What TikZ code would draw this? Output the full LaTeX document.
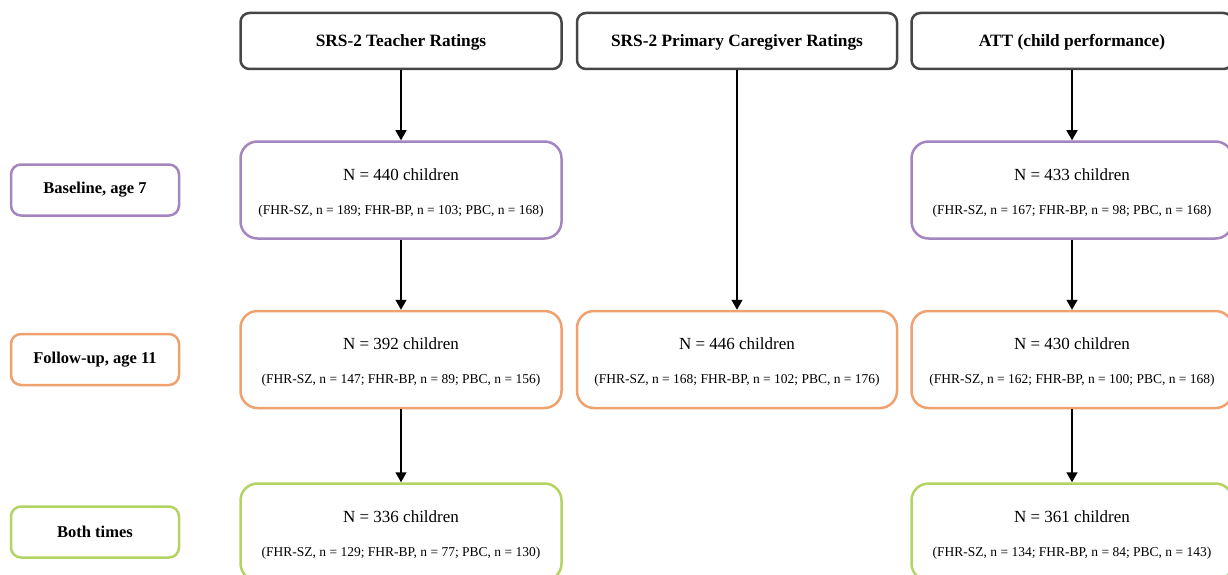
\documentclass[tikz,border=0pt]{standalone}
\usepackage{fontspec}
\setmainfont{Liberation Serif}
\usetikzlibrary{positioning,arrows.meta}

\definecolor{hdrgray}{HTML}{464646}
\definecolor{basepurple}{HTML}{A585C0}
\definecolor{followorange}{HTML}{EFA16F}
\definecolor{bothgreen}{HTML}{B3D363}

\tikzset{
  header/.style={draw=hdrgray, line width=2.5pt, rounded corners=9pt,
    minimum width=321pt, minimum height=56pt,
    text height=15.5pt, text depth=3.5pt,
    font=\fontsize{17.3}{20}\selectfont\bfseries},
  countbox/.style={draw=#1, line width=2.5pt, rounded corners=17pt,
    minimum width=321pt, minimum height=97pt, align=center,
    font=\fontsize{17}{20}\selectfont},
  wave/.style={draw=#1, line width=2.5pt, rounded corners=10pt,
    minimum width=168pt, minimum height=51pt,
    font=\fontsize{16.5}{20}\selectfont\bfseries},
  flow/.style={-{Triangle[width=11pt,length=10pt]}, line width=1.5pt},
}
\newcommand{\groups}[1]{\\[14pt]{\fontsize{13.5}{16}\selectfont (#1)}}
\newcommand{\total}[1]{\rule{0pt}{17.6pt}N = #1 children}

\begin{document}
\begin{tikzpicture}[x=1pt, y=-1pt]
  \useasboundingbox (0,0) rectangle (1228,575);

  % measures
  \node[header] (hdrT) at (401,41) {SRS-2 Teacher Ratings};
  \node[header, minimum width=320pt] (hdrP) at (737,41) {SRS-2 Primary Caregiver Ratings};
  \node[header] (hdrA) at (1072,41) {ATT (child performance)};

  % teacher ratings
  \node[countbox=basepurple, below=70pt of hdrT] (t1)
    {\total{440}\groups{FHR-SZ, n = 189; FHR-BP, n = 103; PBC, n = 168}};
  \node[countbox=followorange, below=70pt of t1] (t2)
    {\total{392}\groups{FHR-SZ, n = 147; FHR-BP, n = 89; PBC, n = 156}};
  \node[countbox=bothgreen, below=73pt of t2] (t3)
    {\total{336}\groups{FHR-SZ, n = 129; FHR-BP, n = 77; PBC, n = 130}};

  % caregiver ratings
  \node[countbox=followorange, minimum width=320pt] (p2) at (t2 -| hdrP)
    {\total{446}\groups{FHR-SZ, n = 168; FHR-BP, n = 102; PBC, n = 176}};

  % ATT
  \node[countbox=basepurple] (a1) at (t1 -| hdrA)
    {\total{433}\groups{FHR-SZ, n = 167; FHR-BP, n = 98; PBC, n = 168}};
  \node[countbox=followorange] (a2) at (t2 -| hdrA)
    {\total{430}\groups{FHR-SZ, n = 162; FHR-BP, n = 100; PBC, n = 168}};
  \node[countbox=bothgreen] (a3) at (t3 -| hdrA)
    {\total{361}\groups{FHR-SZ, n = 134; FHR-BP, n = 84; PBC, n = 143}};

  % waves
  \node[wave=basepurple, left=59pt of t1] (wBase) {Baseline, age 7};
  \node[wave=followorange, left=59pt of t2] (wFollow) {Follow-up, age 11};
  \node[wave=bothgreen, left=59pt of t3] (wBoth) {Both times};

  \draw[flow] (hdrT) -- (t1);
  \draw[flow] (t1) -- (t2);
  \draw[flow] (t2) -- (t3);
  \draw[flow] (hdrP) -- (p2);
  \draw[flow] (hdrA) -- (a1);
  \draw[flow] (a1) -- (a2);
  \draw[flow] (a2) -- (a3);
\end{tikzpicture}
\end{document}
